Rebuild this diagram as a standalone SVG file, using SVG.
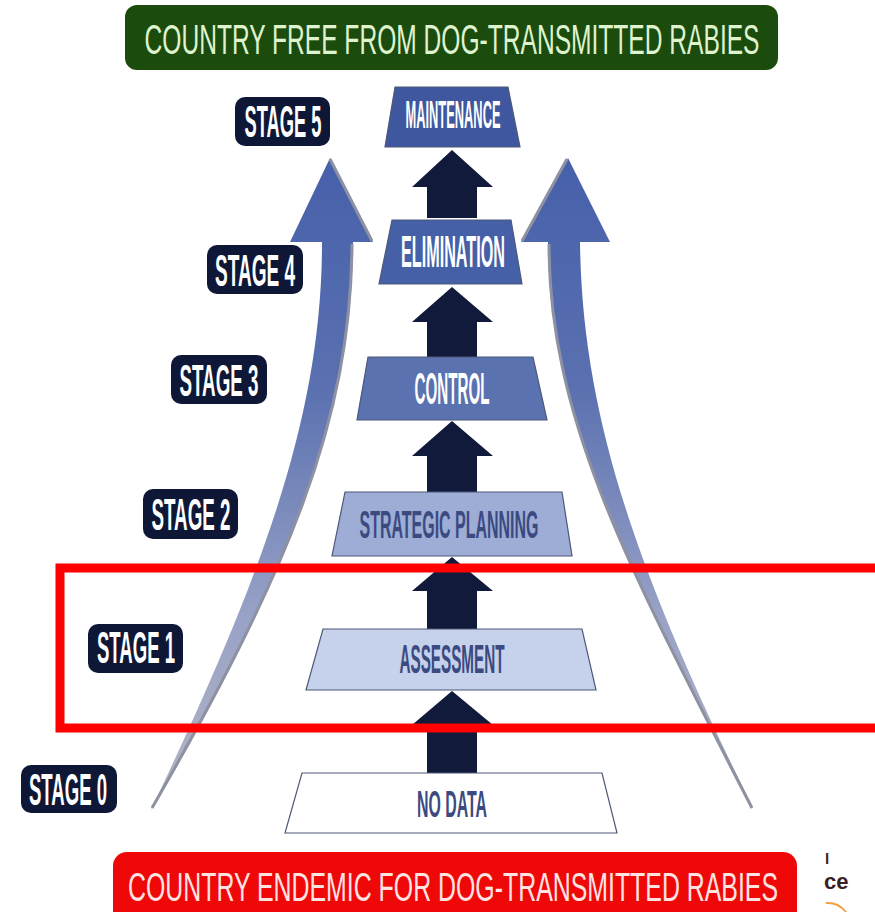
<svg xmlns="http://www.w3.org/2000/svg" width="875" height="912" viewBox="0 0 875 912">
<defs>
<linearGradient id="curveL" gradientUnits="userSpaceOnUse" x1="0" y1="158" x2="0" y2="812">
<stop offset="0" stop-color="#4660aa"/>
<stop offset="0.35" stop-color="#5a70b0"/>
<stop offset="0.7" stop-color="#98a2c6"/>
<stop offset="1" stop-color="#b4b6c2"/>
</linearGradient>
<style>
.stage rect{fill:#0e1836;}
.stage text{fill:#ffffff;font-family:"Liberation Sans Narrow","Liberation Sans",sans-serif;font-weight:bold;font-size:44px;text-anchor:middle;}
.trap polygon{stroke:#4e5878;stroke-width:1.2;}
.trap text{font-family:"Liberation Sans Narrow","Liberation Sans",sans-serif;font-weight:bold;text-anchor:middle;}
.dark text{fill:#ffffff;}
.light text{fill:#3b4a80;}
.up{fill:#111a3a;}
.banner text{font-family:"Liberation Sans Narrow","Liberation Sans",sans-serif;font-size:30px;text-anchor:middle;}
.curve{fill:url(#curveL);}
.edge{fill:none;stroke:#8d91a2;stroke-width:3;}
</style>
</defs>
<rect width="875" height="912" fill="#ffffff"/>

<g id="curved-arrows">
<path class="curve" d="M290,242 L330,158 L373,242 L353,242 C352,420 290,570 150,812 C260,580 322,420 322,242 Z"/>
<path class="edge" d="M330,159 L372,241 M352,244 C351,420 289,570 152,808"/>
<path class="curve" d="M521,242 L568,158 L610,242 L580,242 C582,420 640,580 755,812 C630,570 548,420 548,242 Z"/>
<path class="edge" d="M567,159 L522,241 M549,244 C549,420 630,570 752,808"/>
</g>

<g id="connectors">
<path class="up" d="M452,150 L493,187 L477,187 L477,218 L427,218 L427,187 L412,187 Z"/>
<path class="up" d="M452,287 L493,322 L477,322 L477,357 L427,357 L427,322 L412,322 Z"/>
<path class="up" d="M452,421 L493,456 L477,456 L477,492 L427,492 L427,456 L412,456 Z"/>
<path class="up" d="M452,557 L493,591 L477,591 L477,629 L427,629 L427,591 L412,591 Z"/>
<path class="up" d="M452,691 L493,725 L477,725 L477,773 L427,773 L427,725 L412,725 Z"/>
</g>

<g id="maintenance" class="trap dark">
<polygon points="395,87 508,87 520,147 385,147" fill="#3f579e"/>
<text transform="translate(453,128) scale(1,1.15)" font-size="34" textLength="95" lengthAdjust="spacingAndGlyphs">MAINTENANCE</text>
</g>
<g id="elimination" class="trap dark">
<polygon points="392,220 511,220 522,284 379,284" fill="#4560a6"/>
<text x="453" y="267" font-size="44" textLength="104" lengthAdjust="spacingAndGlyphs">ELIMINATION</text>
</g>
<g id="control" class="trap dark">
<polygon points="368,357 533,357 547,420 357,420" fill="#5a72b0"/>
<text x="452" y="404" font-size="44" textLength="75" lengthAdjust="spacingAndGlyphs">CONTROL</text>
</g>
<g id="strategic-planning" class="trap light">
<polygon points="345,492 562,492 572,556 332,556" fill="#9dadd6"/>
<text x="449" y="538" font-size="38" textLength="179" lengthAdjust="spacingAndGlyphs">STRATEGIC PLANNING</text>
</g>
<g id="assessment" class="trap light">
<polygon points="323,629 582,629 596,690 306,690" fill="#c6d1eb"/>
<text x="452" y="673" font-size="40" textLength="105" lengthAdjust="spacingAndGlyphs">ASSESSMENT</text>
</g>
<g id="no-data" class="trap light">
<polygon points="302,773 602,773 617,833 285,833" fill="#ffffff"/>
<text x="452" y="817" font-size="36" textLength="70" lengthAdjust="spacingAndGlyphs">NO DATA</text>
</g>

<g id="stage5" class="stage">
<rect x="235" y="97" width="95" height="49" rx="10"/>
<text x="283" y="137" textLength="77" lengthAdjust="spacingAndGlyphs">STAGE 5</text>
</g>
<g id="stage4" class="stage">
<rect x="207" y="245" width="96" height="49" rx="10"/>
<text x="255" y="286" textLength="80" lengthAdjust="spacingAndGlyphs">STAGE 4</text>
</g>
<g id="stage3" class="stage">
<rect x="171" y="355" width="96" height="49" rx="10"/>
<text x="219" y="396" textLength="79" lengthAdjust="spacingAndGlyphs">STAGE 3</text>
</g>
<g id="stage2" class="stage">
<rect x="143" y="489" width="95" height="50" rx="10"/>
<text x="191" y="530" textLength="79" lengthAdjust="spacingAndGlyphs">STAGE 2</text>
</g>
<g id="stage1" class="stage">
<rect x="88" y="624" width="95" height="49" rx="10"/>
<text x="136" y="663" textLength="78" lengthAdjust="spacingAndGlyphs">STAGE 1</text>
</g>
<g id="stage0" class="stage">
<rect x="21" y="765" width="96" height="48" rx="10"/>
<text x="68" y="805" textLength="78" lengthAdjust="spacingAndGlyphs">STAGE 0</text>
</g>

<g id="free-banner" class="banner">
<rect x="125" y="5" width="653" height="65" rx="12" fill="#1c4c0d"/>
<text transform="translate(452,54) scale(1,1.42)" fill="#dff3cf" textLength="615" lengthAdjust="spacingAndGlyphs">COUNTRY FREE FROM DOG-TRANSMITTED RABIES</text>
</g>
<g id="endemic-banner" class="banner">
<rect x="113" y="852" width="684" height="80" rx="14" fill="#ee0808"/>
<text transform="translate(453,901) scale(1,1.38)" fill="#ffe2e2" textLength="650" lengthAdjust="spacingAndGlyphs">COUNTRY ENDEMIC FOR DOG-TRANSMITTED RABIES</text>
</g>

<g id="corner">
<text fill="#3a2024" font-family="'Liberation Sans',sans-serif" font-weight="bold"><tspan x="825" y="864" font-size="15">l</tspan><tspan x="824" y="889" font-size="22">ce</tspan></text>
<path d="M826,903 Q838,902 846,912" fill="none" stroke="#f0a040" stroke-width="2"/>
</g>

<rect id="highlight" x="60" y="568" width="830" height="160" fill="none" stroke="#ff0000" stroke-width="9"/>
</svg>
